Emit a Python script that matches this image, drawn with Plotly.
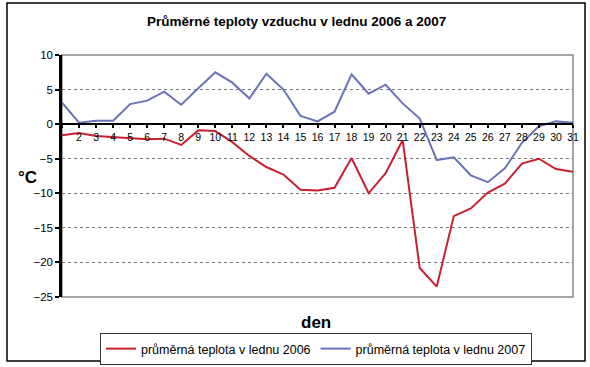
import plotly.graph_objects as go

days = list(range(1, 32))
t2006 = [-1.6, -1.3, -1.7, -1.9, -2.0, -2.2, -2.1, -3.0, -0.9, -1.0,
         -2.6, -4.6, -6.2, -7.3, -9.5, -9.6, -9.2, -4.9, -10.0, -7.1,
         -2.3, -20.8, -23.5, -13.3, -12.2, -9.9, -8.6, -5.7, -5.0, -6.5, -6.9]
t2007 = [3.1, 0.2, 0.5, 0.5, 2.9, 3.4, 4.7, 2.8, 5.2, 7.5,
         6.0, 3.7, 7.3, 5.0, 1.2, 0.4, 1.8, 7.2, 4.4, 5.7,
         3.0, 0.8, -5.2, -4.8, -7.4, -8.4, -6.4, -2.7, -0.3, 0.4, 0.2]
xtick_labels = [""] + [str(d) for d in days[1:]]
ytick_vals = [10, 5, 0, -5, -10, -15, -20, -25]

title = "Průměrné teploty vzduchu v lednu 2006 a 2007"
name2006 = "průměrná teplota v lednu 2006"
name2007 = "průměrná teplota v lednu 2007"

FONT = "Liberation Sans, Arial, sans-serif"
W, H = 590, 367
L, R, T, B = 62, 573, 55, 297

def px(x):
    return (x - L) / (R - L)

def py(y):
    return (B - y) / (B - T)

fig = go.Figure()
fig.add_trace(go.Scatter(x=days, y=t2006, mode="lines", name=name2006,
                         line=dict(color="#c8202e", width=2)))
fig.add_trace(go.Scatter(x=days, y=t2007, mode="lines", name=name2007,
                         line=dict(color="#6a72b8", width=2)))

fig.update_layout(
    width=W, height=H,
    margin=dict(l=L, r=W - R, t=T, b=H - B, autoexpand=False),
    paper_bgcolor="white", plot_bgcolor="white",
    font=dict(family=FONT, color="black", size=11),
    showlegend=True,
    legend=dict(orientation="h", x=px(316), y=py(349), xanchor="center", yanchor="middle",
                bordercolor="#333", borderwidth=1, bgcolor="white",
                font=dict(size=12.5, family=FONT), tracegroupgap=0),
    xaxis=dict(range=[1, 31], tickvals=days, ticktext=xtick_labels,
               anchor="free", position=25 / 35,
               showline=True, linecolor="black", linewidth=2,
               ticks="outside", ticklen=3, tickwidth=1.5, tickcolor="black",
               showgrid=False, zeroline=False, tickfont=dict(size=10.5),
               ticklabeloverflow="allow", fixedrange=True),
    yaxis=dict(range=[-25, 10], tickvals=ytick_vals,
               showline=True, linecolor="black", linewidth=2.5,
               ticks="outside", ticklen=4, tickwidth=2, tickcolor="black",
               showgrid=True, gridcolor="#777", griddash="dot", gridwidth=1,
               zeroline=False, tickfont=dict(size=11.5)),
    shapes=[
        dict(type="rect", xref="paper", yref="paper", x0=0, x1=1, y0=0, y1=1,
             line=dict(color="#888", width=1.5), layer="below"),
        dict(type="rect", xref="paper", yref="paper", x0=px(7), x1=px(585),
             y0=py(361), y1=py(3), line=dict(color="black", width=1.5)),
    ],
    annotations=[
        dict(text="<b>" + title + "</b>", xref="paper", yref="paper",
             x=px(296), y=py(22), showarrow=False, xanchor="center", yanchor="middle",
             font=dict(size=13.5, family=FONT)),
        dict(text="<b>°C</b>", xref="paper", yref="paper",
             x=px(27), y=py(177), showarrow=False, xanchor="center", yanchor="middle",
             font=dict(size=17, family=FONT)),
        dict(text="<b>den</b>", xref="paper", yref="paper",
             x=px(316), y=py(322), showarrow=False, xanchor="center", yanchor="middle",
             font=dict(size=17, family=FONT)),
    ],
)

fig.write_html("out.html", config={"displayModeBar": False},
               post_script="document.body.style.margin='0';document.body.style.padding='0';")
